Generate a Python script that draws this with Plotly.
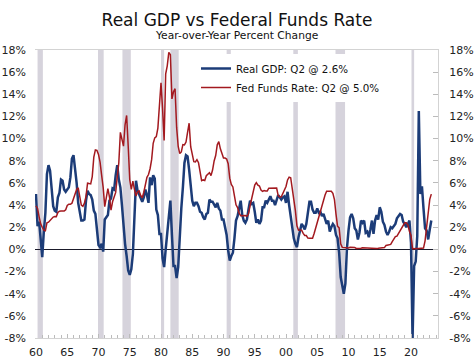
import plotly.graph_objects as go

years = list(range(1960, 2024))

gdp_yoy = [
    5.0, 2.1, 2.5, 0.7,    # 1960
    -0.7, 1.6, 3.3, 6.8,   # 1961
    7.6, 7.1, 5.7, 3.9,    # 1962
    3.5, 3.4, 4.7, 5.1,    # 1963
    6.3, 6.2, 5.4, 5.2,    # 1964
    5.4, 5.6, 6.5, 8.2,    # 1965
    8.5, 7.3, 6.0, 4.2,    # 1966
    3.2, 2.6, 2.6, 2.7,    # 1967
    4.4, 5.3, 5.0, 4.9,    # 1968
    4.5, 3.5, 3.2, 2.0,    # 1969
    0.4, 0.2, 0.5, -0.2,   # 1970
    2.7, 2.9, 3.1, 4.4,    # 1971
    4.6, 5.5, 5.4, 6.7,    # 1972
    7.6, 6.3, 5.6, 4.0,    # 1973
    2.0, 0.5, -0.6, -1.9,  # 1974
    -2.3, -1.8, -0.4, 2.5, # 1975
    6.2, 5.3, 4.9, 4.6,    # 1976
    4.3, 4.7, 5.4, 4.9,    # 1977
    4.2, 6.5, 5.8, 6.7,    # 1978
    6.4, 3.6, 3.1, 1.4,    # 1979
    1.4, -0.8, -1.6, 0.0,  # 1980
    1.5, 3.4, 4.4, 1.3,    # 1981
    -1.5, -1.5, -2.6, -1.6,# 1982
    1.3, 3.7, 5.6, 7.8,    # 1983
    8.5, 8.4, 7.2, 5.7,    # 1984
    4.4, 3.9, 4.2, 4.2,    # 1985
    3.9, 3.4, 3.3, 2.9,    # 1986
    2.7, 3.2, 3.3, 4.5,    # 1987
    4.3, 4.3, 4.0, 3.8,    # 1988
    4.2, 3.7, 3.5, 2.7,    # 1989
    2.7, 2.1, 1.3, -0.1,   # 1990
    -1.0, -0.6, -0.3, 1.0, # 1991
    2.6, 3.0, 3.6, 4.4,    # 1992
    3.1, 2.6, 2.4, 2.7,    # 1993
    3.6, 4.4, 4.1, 4.2,    # 1994
    3.4, 2.4, 2.7, 2.3,    # 1995
    2.6, 3.8, 3.8, 4.4,    # 1996
    4.2, 4.5, 4.8, 4.4,    # 1997
    4.4, 4.0, 4.4, 4.9,    # 1998
    4.7, 4.5, 4.7, 4.8,    # 1999
    4.2, 5.2, 4.0, 3.0,    # 2000
    2.3, 1.0, 0.5, 0.2,    # 2001
    1.1, 1.8, 2.3, 2.1,    # 2002
    1.8, 2.3, 3.2, 4.3,    # 2003
    4.3, 3.6, 3.3, 3.3,    # 2004
    3.7, 3.3, 3.4, 3.0,    # 2005
    3.2, 2.7, 2.3, 2.6,    # 2006
    1.6, 2.0, 2.3, 2.1,    # 2007
    1.3, 1.0, -0.3, -2.5,  # 2008
    -3.3, -4.0, -3.1, 0.1, # 2009
    1.7, 2.9, 3.2, 2.8,    # 2010
    1.9, 1.7, 0.9, 1.5,    # 2011
    2.6, 2.4, 2.6, 1.5,    # 2012
    1.6, 1.1, 1.8, 2.6,    # 2013
    1.4, 2.6, 3.1, 2.7,    # 2014
    3.8, 3.4, 2.5, 2.2,    # 2015
    1.6, 1.3, 1.6, 2.0,    # 2016
    1.9, 2.1, 2.3, 2.8,    # 2017
    3.0, 3.2, 3.1, 2.5,    # 2018
    2.3, 2.0, 2.3, 2.6,    # 2019
    0.6, -8.0, -1.5, -1.1, # 2020
    1.2, 12.5, 5.0, 5.7,   # 2021
    3.7, 1.9, 1.7, 0.9,    # 2022
    1.8, 2.6,              # 2023
]

fed_funds = [
    3.93, 3.70, 2.94, 2.30,
    2.00, 1.73, 1.68, 2.40,
    2.46, 2.61, 2.85, 2.92,
    2.97, 2.96, 3.33, 3.45,
    3.46, 3.49, 3.46, 3.58,
    3.97, 4.08, 4.07, 4.17,
    4.56, 4.91, 5.41, 5.56,
    4.82, 3.99, 3.89, 4.17,
    4.79, 5.98, 5.94, 5.92,
    6.57, 8.33, 8.98, 8.94,
    8.57, 7.88, 6.70, 5.57,
    3.86, 4.56, 5.48, 4.75,
    3.54, 4.30, 4.74, 5.14,
    6.54, 7.82, 10.56, 10.00,
    9.32, 11.25, 12.09, 9.35,
    6.30, 5.42, 6.16, 5.41,
    4.83, 5.20, 5.28, 4.87,
    4.66, 5.16, 5.82, 6.51,
    6.76, 7.28, 8.10, 9.58,
    10.07, 10.18, 10.95, 13.58,
    15.05, 12.69, 9.84, 15.85,
    16.57, 17.78, 17.58, 13.59,
    14.23, 14.51, 11.01, 9.29,
    8.65, 8.80, 9.46, 9.43,
    9.69, 10.56, 11.39, 9.27,
    8.48, 7.92, 7.90, 8.10,
    7.83, 6.92, 6.21, 6.27,
    6.22, 6.65, 6.84, 6.92,
    6.66, 7.16, 7.98, 8.47,
    9.44, 9.73, 9.08, 8.61,
    8.25, 8.24, 8.16, 7.74,
    6.43, 5.86, 5.64, 4.82,
    4.02, 3.77, 3.26, 3.04,
    3.04, 3.00, 3.06, 2.99,
    3.21, 3.94, 4.49, 5.17,
    5.81, 6.02, 5.80, 5.72,
    5.36, 5.24, 5.31, 5.28,
    5.28, 5.52, 5.53, 5.51,
    5.52, 5.50, 5.53, 4.86,
    4.73, 4.75, 5.09, 5.31,
    5.68, 6.27, 6.52, 6.47,
    5.59, 4.33, 3.50, 2.13,
    1.73, 1.75, 1.74, 1.44,
    1.25, 1.25, 1.02, 1.00,
    1.00, 1.01, 1.43, 1.95,
    2.47, 2.94, 3.46, 3.98,
    4.46, 4.91, 5.25, 5.25,
    5.26, 5.25, 5.07, 4.50,
    3.18, 2.09, 1.94, 0.51,
    0.18, 0.18, 0.16, 0.12,
    0.13, 0.19, 0.19, 0.19,
    0.16, 0.09, 0.08, 0.07,
    0.10, 0.15, 0.14, 0.16,
    0.14, 0.12, 0.08, 0.09,
    0.07, 0.09, 0.09, 0.10,
    0.11, 0.12, 0.13, 0.16,
    0.36, 0.37, 0.40, 0.45,
    0.70, 0.95, 1.15, 1.20,
    1.45, 1.74, 1.92, 2.22,
    2.40, 2.40, 2.19, 1.64,
    1.26, 0.06, 0.09, 0.09,
    0.08, 0.07, 0.09, 0.08,
    0.12, 0.77, 2.19, 3.65,
    4.52, 4.99,
]

# Recession periods (start, end) in decimal years
recession_start = [1960.25, 1969.92, 1973.83, 1980.0, 1981.5, 1990.5, 2001.17, 2007.92, 2020.08]
recession_end = [1961.1, 1970.83, 1975.17, 1980.5, 1982.83, 1991.17, 2001.9, 2009.45, 2020.5]

tick_years = [1960, 1965, 1970, 1975, 1980, 1985, 1990, 1995, 2000, 2005, 2010, 2015, 2020]
tick_labels = ["60", "65", "70", "75", "80", "85", "90", "95", "00", "05", "10", "15", "20"]
y_ticks = list(range(-8, 19, 2))
y_tick_labels = [f"{v}%" for v in y_ticks]

quarters = [y + q / 4 for y in years for q in range(4)]
x_gdp = quarters[:len(gdp_yoy)]
x_ff = quarters[:len(fed_funds)]

FONT = "DejaVu Sans, Verdana, sans-serif"
BLUE = "#1C3C78"
RED = "#A3191F"
BAND = "#D6D3DC"

fig = go.Figure()
fig.add_trace(go.Scatter(x=x_gdp, y=gdp_yoy, mode="lines", name="Real GDP: Q2 @ 2.6%",
                         line=dict(color=BLUE, width=2.5), yaxis="y"))
fig.add_trace(go.Scatter(x=x_ff, y=fed_funds, mode="lines", name="Fed Funds Rate: Q2 @ 5.0%",
                         line=dict(color=RED, width=1.5), yaxis="y2"))

for s, e in zip(recession_start, recession_end):
    fig.add_shape(type="rect", xref="x", yref="paper", x0=s, x1=e, y0=0, y1=1,
                  fillcolor=BAND, line=dict(width=0), layer="below")

fig.update_layout(
    width=474, height=363,
    autosize=False,
    margin=dict(l=35, r=36, t=50, b=25, pad=0, autoexpand=False),
    paper_bgcolor="white", plot_bgcolor="white",
    font=dict(family=FONT, size=11, color="#222222"),
    title=dict(text="Real GDP vs Federal Funds Rate", x=0.5, xanchor="center",
               y=1 - 20 / 363, yanchor="middle", automargin=False,
               font=dict(size=17, color="#111111")),
    annotations=[dict(text="Year-over-Year Percent Change", xref="paper", yref="paper",
                      x=0.5 - 0.5 / 403, y=(338 - 35) / 288, xanchor="center", yanchor="middle",
                      showarrow=False, font=dict(size=10.7, color="#111111"))],
    showlegend=True,
    legend=dict(x=(196 - 35) / 403, y=(338 - 54) / 288, xanchor="left", yanchor="top",
                bgcolor="white", borderwidth=0, font=dict(size=10.3, color="#111111"),
                itemwidth=30, tracegroupgap=0),
    xaxis=dict(range=[1959.84, 2024.32], tickvals=tick_years, ticktext=tick_labels,
               automargin=False,
               showgrid=False, zeroline=False, showline=True, linecolor="#D3D3D3", linewidth=1,
               mirror=True, ticks="inside", ticklen=4, tickcolor="#BBBBBB",
               minor=dict(dtick=1, ticks="inside", ticklen=3, tickcolor="#BBBBBB"),
               ticklabelstandoff=4),
    yaxis=dict(range=[-8, 18], tickvals=y_ticks, ticktext=y_tick_labels, showgrid=False,
               automargin=False,
               showline=False, ticks="", zeroline=True, zerolinecolor="#1a1a2a", zerolinewidth=1,
               ticklabelstandoff=8),
    yaxis2=dict(range=[-8, 18], overlaying="y", side="right", tickvals=y_ticks,
                ticktext=y_tick_labels, showgrid=False, zeroline=False, showline=True,
                automargin=False,
                linecolor="#D3D3D3", ticks="inside", ticklen=5, tickcolor="#BBBBBB",
                ticklabelstandoff=8),
)

fig.write_html(
    "out.html",
    config={"responsive": False, "displayModeBar": False},
    post_script="document.body.style.margin='0px';document.body.style.overflow='hidden';",
)
